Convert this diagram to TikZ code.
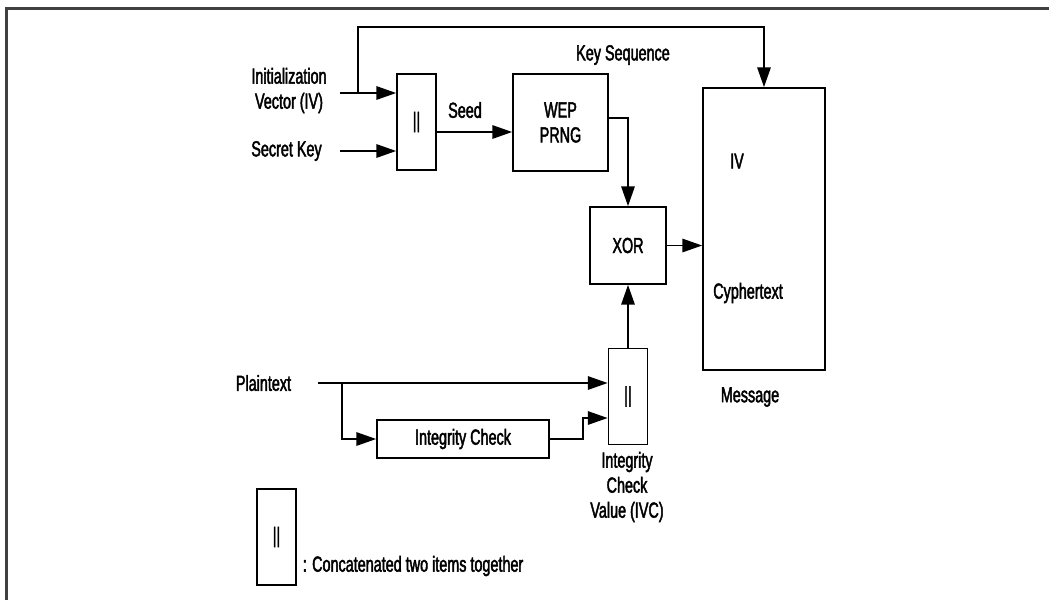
\documentclass[tikz,border=0pt]{standalone}
\usepackage{fontspec}
\setmainfont{Liberation Sans}[FakeStretch=0.66, FakeBold=2]
\usetikzlibrary{arrows.meta, positioning, calc}

\begin{document}
\begin{tikzpicture}[x=0.025cm, y=-0.025cm, line width=1.2pt,
    font=\fontsize{15.5}{17.8}\selectfont,
    box/.style={draw, rectangle, inner sep=0pt},
    cat/.style={box, minimum width=0.975cm, minimum height=2.4cm},
    lbl/.style={align=center, inner sep=0pt},
    arr/.style={-{Triangle[length=14pt, width=9.5pt]}}]
  \useasboundingbox (0,0) rectangle (1049,600);
  % frame
  \draw[black!75, line width=2pt] (6.5,600) -- (6.5,8.5) -- (1049,8.5);

  % boxes
  \node[cat] (cat1) at (416.5,122) {||};
  \node[box, align=center, minimum width=2.375cm, minimum height=2.425cm] (wep) at (560.5,122.5) {WEP\\PRNG};
  \node[box, minimum width=1.9cm, minimum height=1.925cm] (xor) at (628,245.5) {XOR};
  \node[box, minimum width=3.05cm, minimum height=7.05cm] (msg) at (764,229) {};
  \node[cat] (cat2) at (628,396.5) {||};
  \node[box, minimum width=4.3cm, minimum height=0.95cm] (ic) at (463,439) {Integrity Check};
  \node[cat] (leg) at (276.5,537) {||};

  % texts
  \node[lbl] (ivlbl) at (289,90.5) {Initialization\\Vector (IV)};
  \node[lbl] (sklbl) at (286.5,151) {Secret Key};
  \node[lbl] (seed) at (465,110) {Seed};
  \node[lbl] (keyseq) at (623,55) {Key Sequence};
  \node[lbl] (ivtxt) at (737,161) {IV};
  \node[lbl] (cyph) at (748,293) {Cyphertext};
  \node[lbl] (msglbl) at (750,397) {Message};
  \node[lbl] (plain) at (263.5,383) {Plaintext};
  \node[lbl] (ivc) at (627,487) {Integrity\\Check\\Value (IVC)};
  \node[lbl, anchor=west] (legtxt) at (302,566) {: Concatenated two items together};

  % connectors
  \coordinate (ivsrc) at (340,93);
  \coordinate (ivtap) at (358,93);
  \coordinate (top) at (0,27);
  \coordinate (sksrc) at (340,151);
  \coordinate (ptsrc) at (318,383);
  \coordinate (pttap) at (342,383);
  \coordinate (seedsrc) at ($(cat1.east)+(0,10)$);

  \draw[arr] (ivsrc) -- (ivsrc -| cat1.west);
  \draw[arr] (ivtap) -- (ivtap |- top) -| (msg.north);
  \draw[arr] (sksrc) -- (sksrc -| cat1.west);
  \draw[arr] (seedsrc) -- (seedsrc -| wep.west);
  \draw[arr] ($(wep.east)+(0,-4.5)$) -| (xor.north);
  \draw[arr] (xor.east) -- (xor.east -| msg.west);
  \draw[arr] (cat2.north) -- (xor.south);
  \draw[arr] (ptsrc) -- (ptsrc -| cat2.west);
  \draw[arr] (pttap) |- (ic.west);
  \draw[arr] (ic.east) -- ++(33,0) |- ($(cat2.west)+(0,21.5)$);
\end{tikzpicture}
\end{document}
